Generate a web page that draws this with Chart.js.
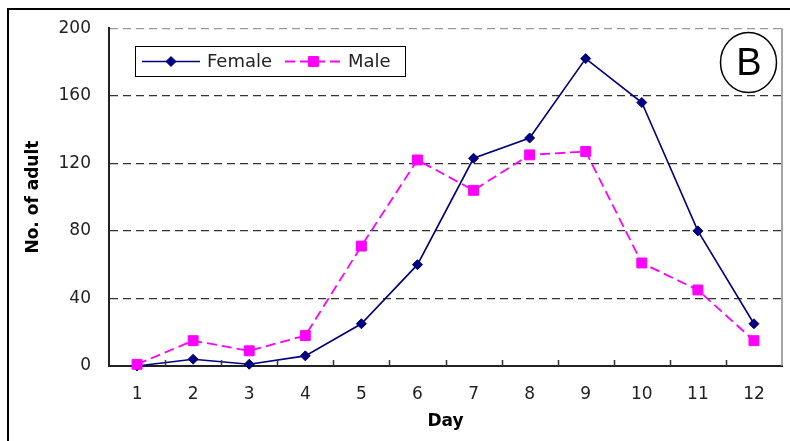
<!DOCTYPE html>
<html lang="en">
<head>
<meta charset="UTF-8" />
<title>Day vs No. of adult</title>
<script src="https://cdn.jsdelivr.net/npm/chart.js"></script>
<style>
  html, body { margin: 0; padding: 0; background: #fff; }
  #wrap { position: relative; width: 790px; height: 441px; }
</style>
</head>
<body>
<div id="wrap"><canvas id="myChart" width="790" height="441"></canvas></div>
<script>
// values
var days = ['1', '2', '3', '4', '5', '6', '7', '8', '9', '10', '11', '12'];
var female = [0, 4, 1, 6, 25, 60, 123, 135, 182, 156, 80, 25];
var male = [1, 15, 9, 18, 71, 122, 104, 125, 127, 61, 45, 15];
var yTicks = [0, 40, 80, 120, 160, 200];

var FONT = 'DejaVu Sans';

// outer frame, inside x ticks, right plot border, legend box and the circled B
var extras = {
    id: 'extras',
    beforeDraw: function (chart) {
        var c = chart.ctx;
        c.save();
        c.strokeStyle = '#000';
        c.lineWidth = 2;
        c.beginPath();
        c.moveTo(8, 441);
        c.lineTo(8, 9);
        c.lineTo(790, 9);
        c.stroke();
        c.restore();
    },
    afterDatasetsDraw: function (chart) {
        // excel style tick marks pointing into the plot, between days
        var c = chart.ctx;
        var a = chart.chartArea;
        var xs = chart.scales.x;
        c.save();
        c.strokeStyle = '#333';
        c.lineWidth = 1.5;
        c.beginPath();
        for (var i = 1; i < days.length; i++) {
            var px = Math.round((xs.getPixelForTick(i - 1) + xs.getPixelForTick(i)) / 2) + 0.5;
            c.moveTo(px, a.bottom);
            c.lineTo(px, a.bottom - 6);
        }
        c.stroke();
        c.restore();
    },
    afterDraw: function (chart) {
        var c = chart.ctx;
        var a = chart.chartArea;
        c.save();
        // right side of the plot
        c.strokeStyle = '#888';
        c.lineWidth = 1.5;
        c.beginPath();
        c.moveTo(a.right, a.top);
        c.lineTo(a.right, a.bottom);
        c.stroke();

        // legend
        var bx = 135, by = 46, bw = 270, bh = 30;
        c.fillStyle = '#fff';
        c.fillRect(bx, by, bw, bh);
        c.strokeStyle = '#000';
        c.lineWidth = 1;
        c.strokeRect(bx + 0.5, by + 0.5, bw, bh);
        var items = [
            { ds: chart.data.datasets[0], x0: 142, x1: 200, tx: 207 },
            { ds: chart.data.datasets[1], x0: 285, x1: 342, tx: 348 }
        ];
        var ly = by + bh / 2 + 0.5;
        items.forEach(function (it) {
            c.strokeStyle = it.ds.borderColor;
            c.fillStyle = it.ds.backgroundColor;
            c.lineWidth = it.ds.borderWidth;
            c.setLineDash(it.ds.borderDash || []);
            c.beginPath();
            c.moveTo(it.x0, ly);
            c.lineTo(it.x1, ly);
            c.stroke();
            c.setLineDash([]);
            c.lineWidth = 1;
            Chart.helpers.drawPoint(c, {
                pointStyle: it.ds.pointStyle,
                radius: it.ds.pointRadius,
                borderWidth: 1
            }, (it.x0 + it.x1) / 2, ly);
            c.fillStyle = '#222';
            c.font = '18px "' + FONT + '"';
            c.textBaseline = 'middle';
            c.textAlign = 'left';
            c.fillText(it.ds.label, it.tx, ly + 1);
        });

        // circled letter
        c.strokeStyle = '#000';
        c.lineWidth = 1.5;
        c.beginPath();
        c.ellipse(748.5, 62.5, 28, 30, 0, 0, Math.PI * 2);
        c.stroke();
        c.fillStyle = '#000';
        c.font = '38px "Liberation Sans"';
        c.textAlign = 'center';
        c.textBaseline = 'middle';
        c.fillText('B', 749, 65);
        c.restore();
    }
};

var ctx = document.getElementById('myChart').getContext('2d');
var myChart = new Chart(ctx, {
    type: 'line',
    data: {
        labels: days,
        datasets: [{
                label: 'Female',
                data: female,
                borderColor: '#000080',
                backgroundColor: '#000080',
                borderWidth: 1.6,
                pointStyle: 'rectRot',
                pointRadius: 5,
                pointBorderWidth: 1,
                tension: 0,
                clip: false,
                order: 1
            },
            {
                label: 'Male',
                data: male,
                borderColor: '#ff00ff',
                backgroundColor: '#ff00ff',
                borderWidth: 1.8,
                borderDash: [10, 5],
                pointStyle: 'rect',
                pointRadius: 7,
                pointBorderWidth: 1,
                tension: 0,
                clip: false,
                order: 0
            }
        ]
    },
    options: {
        responsive: false,
        animation: false,
        layout: { padding: { top: 27, right: 4, left: 0, bottom: 0 } },
        plugins: {
            legend: { display: false },
            tooltip: { enabled: false }
        },
        scales: {
            x: {
                offset: true,
                afterFit: function (s) { s.height = 75; },
                grid: {
                    offset: true,
                    drawOnChartArea: false,
                    drawTicks: false
                },
                border: { color: '#222', width: 2 },
                ticks: {
                    color: '#222',
                    padding: 18,
                    maxRotation: 0,
                    font: { family: FONT, size: 17 }
                },
                title: {
                    display: true,
                    text: 'Day',
                    color: '#000',
                    font: { family: FONT, size: 17, weight: 'bold' },
                    padding: { top: 0, bottom: 9 }
                }
            },
            y: {
                min: 0,
                max: 200,
                afterFit: function (s) { s.width = 109; },
                afterBuildTicks: function (s) {
                    s.ticks = yTicks.map(function (v) { return { value: v }; });
                },
                grid: {
                    drawTicks: false,
                    lineWidth: 1.2,
                    color: function (c) {
                        if (c.tick && c.tick.value === 0) return 'rgba(0,0,0,0)';
                        if (c.tick && c.tick.value === 200) return '#999';
                        return '#333';
                    }
                },
                border: { color: '#222', width: 2, dash: [8, 5] },
                ticks: {
                    color: '#222',
                    padding: 18,
                    font: { family: FONT, size: 17 }
                },
                title: {
                    display: true,
                    text: 'No. of adult',
                    color: '#000',
                    font: { family: FONT, size: 17, weight: 'bold' },
                    padding: { top: 23, bottom: 0 }
                }
            }
        }
    },
    plugins: [extras]
});
</script>
</body>
</html>
